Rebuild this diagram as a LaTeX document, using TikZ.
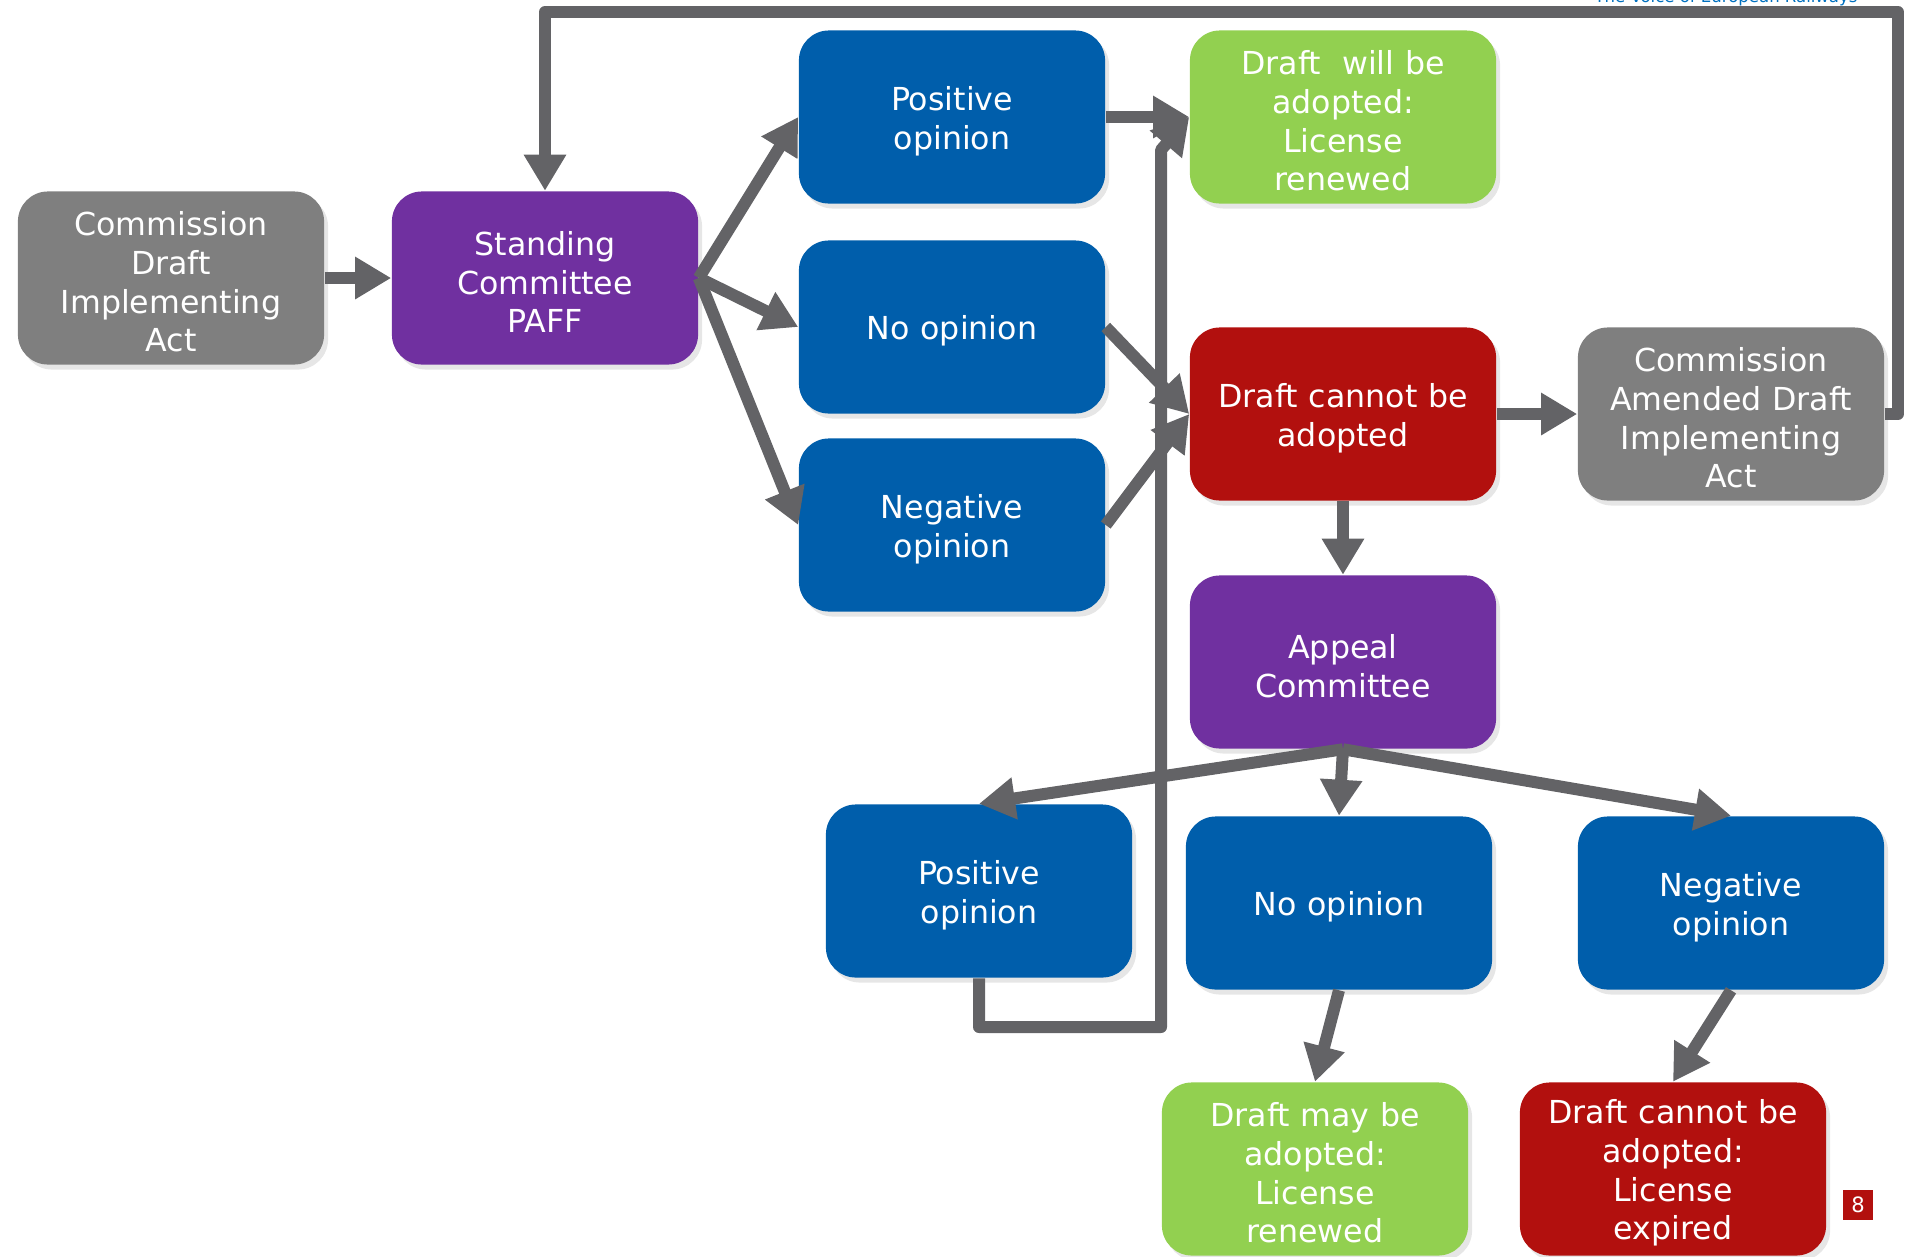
\documentclass[tikz,border=0pt]{standalone}
\usepackage{fontspec}
\setmainfont{DejaVu Sans}
\usetikzlibrary{arrows.meta,shadows}
\definecolor{boxgray}{HTML}{7F7F7F}
\definecolor{boxpurple}{HTML}{7030A0}
\definecolor{boxblue}{HTML}{005EAB}
\definecolor{boxgreen}{HTML}{92D050}
\definecolor{boxred}{HTML}{B2100E}
\definecolor{linkgray}{HTML}{636366}
\definecolor{hdrblue}{HTML}{0070C0}
\tikzset{
  box/.style={rectangle,rounded corners=0.3cm,minimum width=3.06cm,minimum height=1.73cm,
    inner sep=0pt,text width=2.9cm,align=center,text=white,font=\fontsize{9}{11}\selectfont,
    execute at begin node={\rule{0pt}{9.1pt}},
    drop shadow={shadow xshift=0.04cm,shadow yshift=-0.05cm,opacity=0.2}},
  graybox/.style={box,fill=boxgray},
  purplebox/.style={box,fill=boxpurple},
  bluebox/.style={box,fill=boxblue},
  greenbox/.style={box,fill=boxgreen},
  redbox/.style={box,fill=boxred},
  link/.style={draw=linkgray,line width=0.12cm,line join=round,-{Triangle[length=3.6mm,width=4mm]}}
}
\begin{document}
\begin{tikzpicture}[x=0.01cm,y=-0.01cm]
\useasboundingbox (0,0) rectangle (1905,1257);
\node[font=\fontsize{4.7}{5}\selectfont,text=hdrblue,anchor=base] (HD) at (1726,2) {The Voice of European Railways};

\node[graybox] (CD) at (171,278) {Commission\\Draft\\Implementing\\Act};
\node[purplebox] (SC) at (545,278) {Standing\\Committee\\PAFF};
\node[bluebox] (PO) at (952,117) {Positive\\opinion};
\node[bluebox] (NO) at (952,327) {No opinion};
\node[bluebox] (NE) at (952,525) {Negative\\opinion};
\node[greenbox] (DW) at (1343,117) {Draft~ will be\\adopted:\\License\\renewed};
\node[redbox] (DC) at (1343,414) {Draft cannot be\\adopted};
\node[graybox] (CA) at (1731,414) {Commission\\Amended Draft\\Implementing\\Act};
\node[purplebox] (AC) at (1343,662) {Appeal\\Committee};
\node[bluebox] (PO2) at (979,891) {Positive\\opinion};
\node[bluebox] (NO2) at (1339,903) {No opinion};
\node[bluebox] (NE2) at (1731,903) {Negative\\opinion};
\node[greenbox] (DM) at (1315,1169) {Draft may be\\adopted:\\License\\renewed};
\node[redbox] (DX) at (1673,1169) {Draft cannot be\\adopted:\\License\\expired};
\node[fill=boxred,text=white,minimum size=0.3cm,inner sep=0pt,font=\fontsize{6}{7}\selectfont] (PG) at (1858,1205) {8};

\coordinate (TR) at (1898,12);
\coordinate (TL) at (545,12);
\coordinate (BR) at (1161,1027);
\coordinate (UP) at (1161,150);

\draw[link] (CD.east) -- (SC.west);
\draw[link] (SC.east) -- (PO.west);
\draw[link] (SC.east) -- (NO.west);
\draw[link] (SC.east) -- (NE.west);
\draw[link] (PO.east) -- (DW.west);
\draw[link] (NO.east) -- (DC.west);
\draw[link] (NE.east) -- (DC.west);
\draw[link] (DC.east) -- (CA.west);
\draw[link] (DC.south) -- (AC.north);
\draw[link] (CA.east) -| (TR) -- (TL) -- (SC.north);
\draw[link] (AC.south) -- (PO2.north);
\draw[link] (AC.south) -- (NO2.north);
\draw[link] (AC.south) -- (NE2.north);
\draw[link] (PO2.south) |- (BR) -- (UP) -- (DW.west);
\draw[link] (NO2.south) -- (DM.north);
\draw[link] (NE2.south) -- (DX.north);
\end{tikzpicture}
\end{document}
